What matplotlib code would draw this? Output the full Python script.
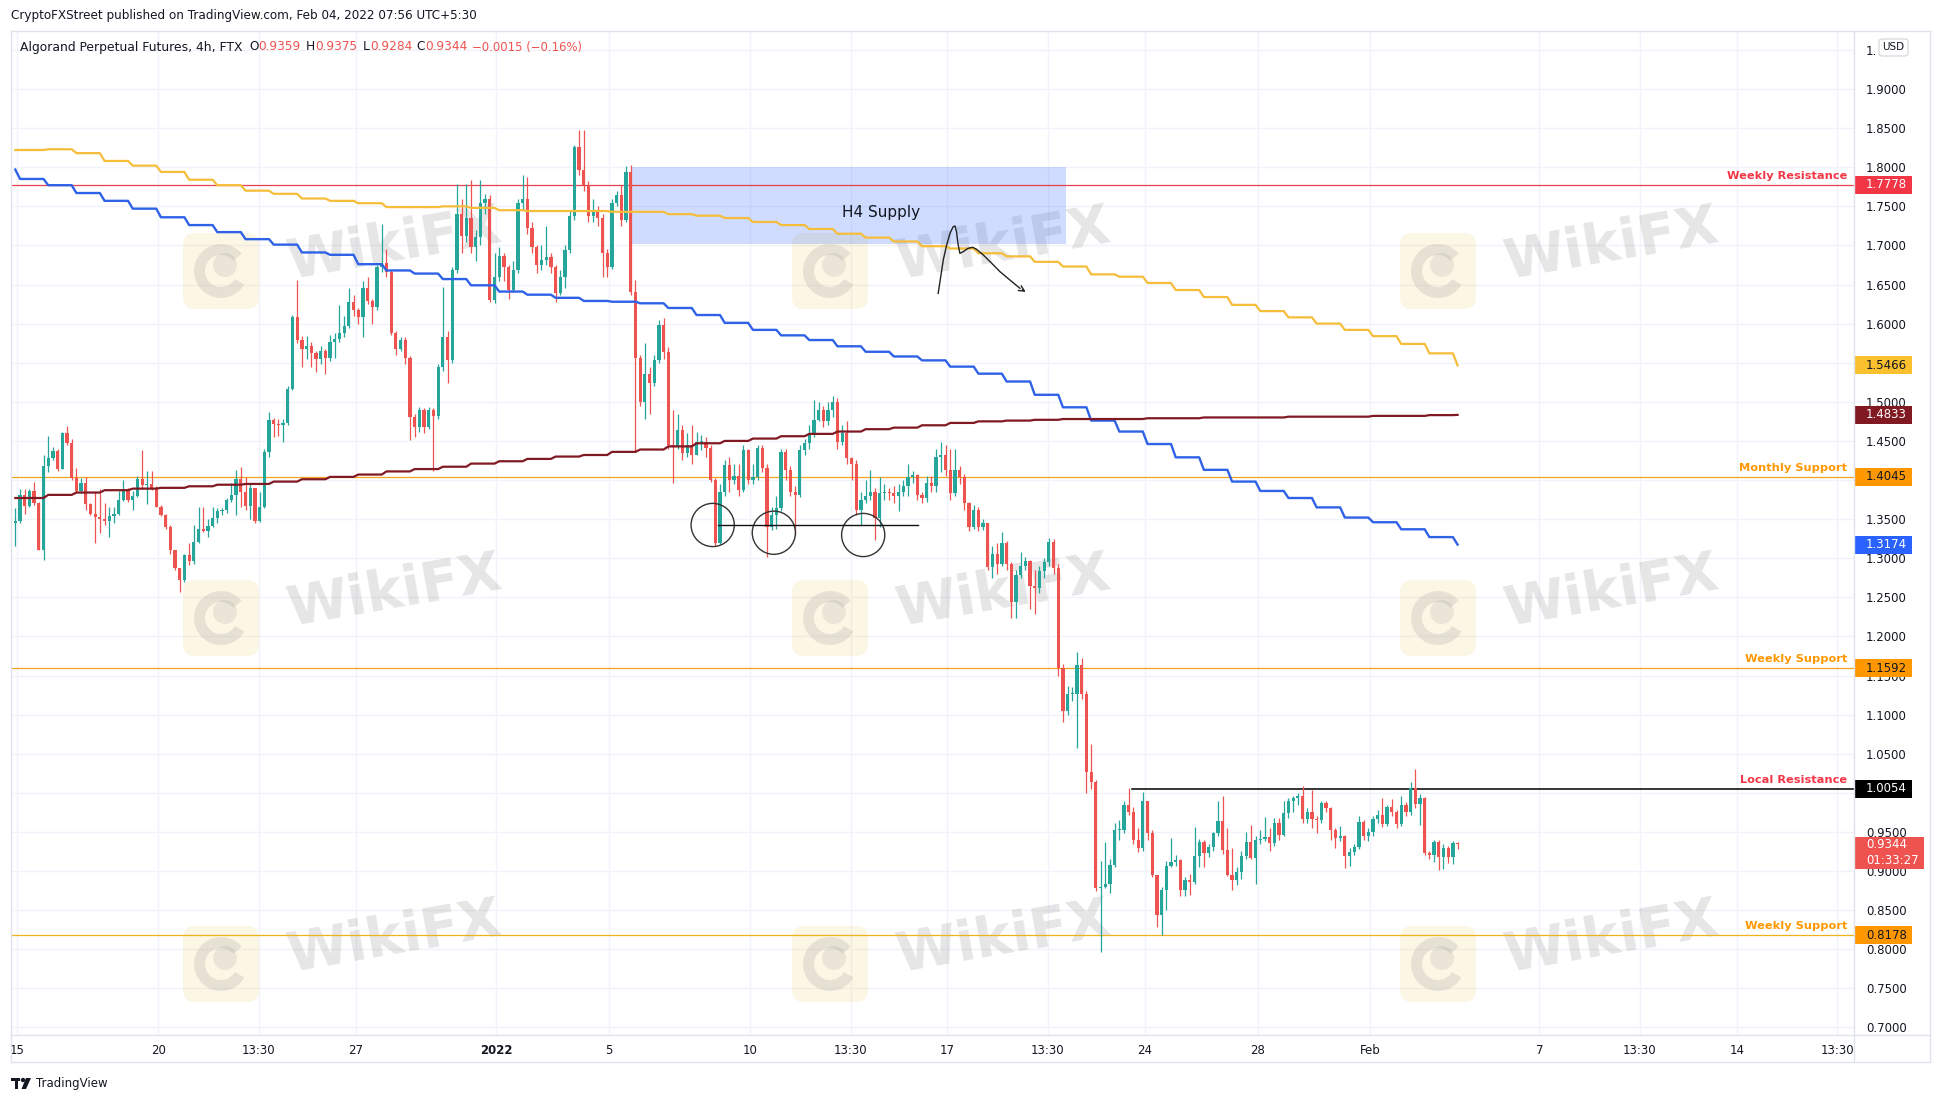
import numpy as np
import matplotlib
matplotlib.use("Agg")
import matplotlib.pyplot as plt
import matplotlib.transforms as mtransforms
from matplotlib.patches import Rectangle, Ellipse, FancyBboxPatch, Wedge, Polygon
from matplotlib.lines import Line2D

W, H = 1941, 1103

# 4h candles, x = days since Dec 15 00:00 (UTC+5:30)
first_candle_day = -0.07
first_open = 1.345
closes = [
    1.347, 1.381, 1.367, 1.386, 1.370, 1.311, 1.418, 1.428, 1.437, 1.414,
    1.460, 1.447, 1.402, 1.386, 1.396, 1.369, 1.357, 1.353, 1.350, 1.348,
    1.354, 1.357, 1.375, 1.388, 1.374, 1.380, 1.401, 1.394, 1.395, 1.389,
    1.366, 1.355, 1.340, 1.310, 1.287, 1.272, 1.304, 1.297, 1.321, 1.338,
    1.335, 1.341, 1.351, 1.360, 1.362, 1.374, 1.381, 1.401, 1.385, 1.367,
    1.390, 1.348, 1.366, 1.436, 1.477, 1.471, 1.470, 1.473, 1.517, 1.609,
    1.579, 1.568, 1.571, 1.562, 1.555, 1.565, 1.556, 1.577, 1.580, 1.588,
    1.597, 1.628, 1.617, 1.608, 1.646, 1.629, 1.621, 1.672, 1.677, 1.666,
    1.588, 1.568, 1.579, 1.556, 1.481, 1.468, 1.490, 1.468, 1.490, 1.482,
    1.545, 1.583, 1.553, 1.669, 1.740, 1.712, 1.735, 1.698, 1.711, 1.754,
    1.760, 1.630, 1.660, 1.686, 1.672, 1.643, 1.669, 1.754, 1.760, 1.722,
    1.698, 1.675, 1.681, 1.685, 1.673, 1.639, 1.660, 1.694, 1.737, 1.826,
    1.796, 1.777, 1.737, 1.745, 1.735, 1.690, 1.673, 1.754, 1.765, 1.733,
    1.794, 1.641, 1.556, 1.500, 1.536, 1.524, 1.553, 1.598, 1.564, 1.445,
    1.443, 1.464, 1.434, 1.445, 1.432, 1.449, 1.449, 1.441, 1.400, 1.319,
    1.385, 1.419, 1.400, 1.405, 1.387, 1.438, 1.400, 1.404, 1.441, 1.415,
    1.340, 1.355, 1.364, 1.436, 1.413, 1.385, 1.381, 1.438, 1.447, 1.458,
    1.477, 1.490, 1.475, 1.490, 1.500, 1.449, 1.460, 1.428, 1.421, 1.362,
    1.374, 1.379, 1.385, 1.351, 1.383, 1.385, 1.383, 1.379, 1.385, 1.392,
    1.404, 1.406, 1.381, 1.377, 1.396, 1.392, 1.430, 1.432, 1.413, 1.383,
    1.413, 1.404, 1.370, 1.340, 1.362, 1.340, 1.345, 1.289, 1.305, 1.292,
    1.320, 1.292, 1.244, 1.279, 1.290, 1.297, 1.265, 1.262, 1.284, 1.295,
    1.321, 1.288, 1.160, 1.105, 1.126, 1.127, 1.163, 1.126, 1.027, 1.014,
    0.878, 0.880, 0.883, 0.908, 0.952, 0.953, 0.984, 0.976, 0.940, 0.929,
    0.989, 0.948, 0.895, 0.844, 0.876, 0.906, 0.912, 0.914, 0.876, 0.889,
    0.886, 0.919, 0.937, 0.923, 0.931, 0.948, 0.964, 0.927, 0.895, 0.888,
    0.899, 0.919, 0.937, 0.917, 0.940, 0.941, 0.944, 0.936, 0.961, 0.946,
    0.974, 0.990, 0.993, 0.996, 0.966, 0.976, 0.967, 0.965, 0.987, 0.980,
    0.952, 0.942, 0.945, 0.919, 0.924, 0.931, 0.963, 0.945, 0.950, 0.966,
    0.972, 0.960, 0.982, 0.975, 0.960, 0.985, 0.976, 1.006, 0.986, 0.993,
    0.923, 0.921, 0.937, 0.918, 0.929, 0.918, 0.9359, 0.9344]
highs = [
    1.364, 1.389, 1.389, 1.389, 1.398, 1.372, 1.432, 1.456, 1.442, 1.440,
    1.462, 1.469, 1.453, 1.415, 1.402, 1.404, 1.370, 1.385, 1.388, 1.370,
    1.366, 1.366, 1.386, 1.400, 1.390, 1.386, 1.405, 1.438, 1.411, 1.411,
    1.392, 1.368, 1.357, 1.342, 1.311, 1.288, 1.306, 1.319, 1.342, 1.365,
    1.365, 1.350, 1.366, 1.364, 1.364, 1.377, 1.396, 1.413, 1.417, 1.404,
    1.395, 1.390, 1.385, 1.440, 1.487, 1.479, 1.478, 1.478, 1.520, 1.611,
    1.656, 1.584, 1.584, 1.576, 1.565, 1.572, 1.568, 1.585, 1.588, 1.624,
    1.610, 1.645, 1.636, 1.620, 1.654, 1.660, 1.632, 1.675, 1.728, 1.695,
    1.668, 1.590, 1.583, 1.583, 1.558, 1.485, 1.494, 1.492, 1.494, 1.492,
    1.548, 1.647, 1.590, 1.672, 1.779, 1.760, 1.779, 1.784, 1.720, 1.784,
    1.766, 1.765, 1.690, 1.698, 1.690, 1.675, 1.680, 1.760, 1.790, 1.788,
    1.730, 1.700, 1.700, 1.725, 1.690, 1.675, 1.668, 1.700, 1.745, 1.828,
    1.848, 1.848, 1.782, 1.760, 1.750, 1.740, 1.695, 1.760, 1.770, 1.777,
    1.801, 1.803, 1.656, 1.560, 1.575, 1.545, 1.560, 1.605, 1.607, 1.570,
    1.490, 1.485, 1.470, 1.460, 1.470, 1.462, 1.458, 1.455, 1.445, 1.402,
    1.395, 1.425, 1.430, 1.420, 1.420, 1.445, 1.440, 1.420, 1.445, 1.445,
    1.420, 1.365, 1.380, 1.440, 1.440, 1.418, 1.392, 1.445, 1.452, 1.470,
    1.502, 1.500, 1.495, 1.500, 1.507, 1.505, 1.470, 1.475, 1.430, 1.425,
    1.385, 1.400, 1.413, 1.390, 1.404, 1.395, 1.390, 1.392, 1.395, 1.400,
    1.420, 1.412, 1.408, 1.385, 1.405, 1.405, 1.440, 1.449, 1.445, 1.440,
    1.440, 1.418, 1.408, 1.372, 1.368, 1.366, 1.350, 1.345, 1.315, 1.320,
    1.333, 1.322, 1.295, 1.285, 1.308, 1.302, 1.298, 1.285, 1.290, 1.300,
    1.326, 1.324, 1.292, 1.165, 1.137, 1.135, 1.180, 1.173, 1.130, 1.062,
    1.016, 0.913, 0.937, 0.915, 0.962, 0.965, 0.989, 1.006, 0.982, 0.955,
    1.001, 0.990, 0.952, 0.895, 0.880, 0.913, 0.942, 0.920, 0.915, 0.892,
    0.896, 0.956, 0.941, 0.940, 0.935, 0.950, 0.989, 0.996, 0.955, 0.930,
    0.905, 0.926, 0.950, 0.959, 0.945, 0.953, 0.969, 0.955, 0.968, 0.968,
    0.990, 0.993, 0.996, 1.000, 1.009, 0.980, 1.004, 0.970, 0.990, 0.990,
    0.982, 0.955, 0.957, 0.946, 0.930, 0.935, 0.970, 0.965, 0.955, 0.970,
    0.978, 0.993, 0.985, 0.992, 0.978, 0.996, 0.988, 1.014, 1.030, 0.998,
    0.995, 0.925, 0.940, 0.940, 0.935, 0.932, 0.938, 0.9375]
lows = [
    1.315, 1.345, 1.357, 1.366, 1.368, 1.310, 1.298, 1.410, 1.425, 1.412,
    1.414, 1.445, 1.400, 1.384, 1.384, 1.362, 1.355, 1.319, 1.332, 1.342,
    1.327, 1.345, 1.355, 1.373, 1.372, 1.362, 1.378, 1.389, 1.369, 1.387,
    1.365, 1.354, 1.338, 1.306, 1.285, 1.257, 1.270, 1.291, 1.293, 1.320,
    1.333, 1.327, 1.340, 1.345, 1.355, 1.358, 1.372, 1.355, 1.365, 1.362,
    1.350, 1.345, 1.346, 1.364, 1.430, 1.455, 1.456, 1.448, 1.470, 1.515,
    1.575, 1.545, 1.555, 1.545, 1.538, 1.548, 1.536, 1.552, 1.556, 1.576,
    1.583, 1.595, 1.610, 1.600, 1.583, 1.625, 1.600, 1.618, 1.666, 1.660,
    1.585, 1.560, 1.565, 1.548, 1.451, 1.455, 1.462, 1.460, 1.465, 1.411,
    1.478, 1.540, 1.524, 1.550, 1.665, 1.690, 1.705, 1.690, 1.680, 1.700,
    1.740, 1.628, 1.626, 1.655, 1.655, 1.632, 1.640, 1.665, 1.745, 1.715,
    1.690, 1.665, 1.668, 1.675, 1.665, 1.628, 1.636, 1.645, 1.690, 1.733,
    1.790, 1.770, 1.730, 1.730, 1.725, 1.660, 1.660, 1.670, 1.750, 1.725,
    1.730, 1.636, 1.436, 1.495, 1.478, 1.485, 1.520, 1.550, 1.555, 1.440,
    1.396, 1.440, 1.425, 1.430, 1.420, 1.432, 1.438, 1.430, 1.398, 1.315,
    1.318, 1.380, 1.385, 1.395, 1.380, 1.385, 1.395, 1.395, 1.400, 1.410,
    1.302, 1.336, 1.338, 1.360, 1.400, 1.380, 1.330, 1.378, 1.432, 1.440,
    1.455, 1.475, 1.468, 1.470, 1.480, 1.440, 1.445, 1.420, 1.400, 1.355,
    1.342, 1.370, 1.375, 1.323, 1.340, 1.375, 1.375, 1.370, 1.360, 1.380,
    1.380, 1.396, 1.375, 1.370, 1.372, 1.385, 1.385, 1.410, 1.405, 1.375,
    1.380, 1.395, 1.362, 1.335, 1.338, 1.335, 1.336, 1.285, 1.275, 1.280,
    1.290, 1.285, 1.224, 1.224, 1.275, 1.285, 1.235, 1.229, 1.255, 1.275,
    1.290, 1.280, 1.150, 1.091, 1.100, 1.118, 1.057, 1.120, 1.000, 1.005,
    0.875, 0.797, 0.878, 0.872, 0.905, 0.940, 0.948, 0.972, 0.935, 0.924,
    0.925, 0.940, 0.892, 0.829, 0.818, 0.850, 0.905, 0.906, 0.868, 0.868,
    0.869, 0.884, 0.905, 0.905, 0.918, 0.925, 0.945, 0.922, 0.893, 0.876,
    0.882, 0.890, 0.915, 0.915, 0.883, 0.935, 0.938, 0.925, 0.932, 0.940,
    0.945, 0.968, 0.975, 0.985, 0.962, 0.962, 0.955, 0.949, 0.962, 0.975,
    0.940, 0.929, 0.938, 0.904, 0.906, 0.920, 0.928, 0.940, 0.938, 0.945,
    0.962, 0.956, 0.958, 0.970, 0.955, 0.958, 0.970, 0.972, 0.980, 0.959,
    0.920, 0.915, 0.911, 0.901, 0.903, 0.910, 0.909, 0.9284]

# daily moving averages (stepped), days -1 .. 51
ma_yellow = [1.822, 1.822, 1.823, 1.818, 1.808, 1.802, 1.794, 1.784, 1.777, 1.770,
             1.766, 1.760, 1.757, 1.754, 1.749, 1.749, 1.750, 1.748, 1.745, 1.744,
             1.744, 1.744, 1.743, 1.743, 1.740, 1.738, 1.735, 1.730, 1.726, 1.721,
             1.715, 1.710, 1.705, 1.699, 1.696, 1.690, 1.686, 1.679, 1.673, 1.663,
             1.660, 1.652, 1.643, 1.634, 1.624, 1.616, 1.608, 1.600, 1.592, 1.584,
             1.574, 1.562, 1.5466]
ma_blue = [1.797, 1.785, 1.777, 1.767, 1.757, 1.747, 1.736, 1.726, 1.717, 1.708,
           1.701, 1.691, 1.688, 1.676, 1.668, 1.664, 1.657, 1.649, 1.641, 1.637,
           1.633, 1.629, 1.628, 1.626, 1.620, 1.611, 1.601, 1.592, 1.585, 1.579,
           1.571, 1.564, 1.558, 1.553, 1.545, 1.536, 1.526, 1.509, 1.493, 1.476,
           1.462, 1.446, 1.429, 1.413, 1.398, 1.386, 1.377, 1.365, 1.352, 1.346,
           1.337, 1.327, 1.3174]
ma_brown = [1.377, 1.377, 1.381, 1.384, 1.387, 1.389, 1.390, 1.392, 1.394, 1.395,
            1.398, 1.401, 1.404, 1.407, 1.411, 1.414, 1.417, 1.421, 1.424, 1.427,
            1.430, 1.432, 1.436, 1.439, 1.443, 1.447, 1.450, 1.453, 1.456, 1.459,
            1.462, 1.465, 1.467, 1.470, 1.473, 1.475, 1.476, 1.477, 1.478, 1.478,
            1.478, 1.479, 1.479, 1.480, 1.480, 1.480, 1.481, 1.481, 1.481, 1.482,
            1.482, 1.483, 1.4833]

# horizontal levels
level_prices = [1.7778, 1.4045, 1.1592, 1.0054, 0.8178]
level_names = ["Weekly Resistance", "Monthly Support", "Weekly Support", "Local Resistance", "Weekly Support"]
level_colors = ["#e8404f", "#f5a21f", "#f5a21f", "#000000", "#f0b21a"]
level_text_colors = ["#f23645", "#ff9800", "#ff9800", "#f23645", "#ff9800"]
level_start = [None, None, None, 39.53, None]

# price tags on the right scale
tag_prices = [1.7778, 1.5466, 1.4833, 1.4045, 1.3174, 1.1592, 1.0054, 0.8178]
tag_fill = ["#f23645", "#fbc02d", "#801922", "#ff9800", "#2962ff", "#ff9800", "#000000", "#ff9800"]
tag_text = ["white", "#131722", "white", "#131722", "white", "#131722", "white", "#131722"]

# annotations
supply_days = [21.8, 37.2]
supply_prices = [1.7018, 1.8006]
circle_days = [24.67, 26.84, 30.01]
circle_prices = [1.3425, 1.3326, 1.3297]
base_line_days = [24.87, 31.96]
base_line_price = 1.3421
arrow_days = [32.67, 32.76, 32.85, 32.97, 33.09, 33.20, 33.27, 33.32, 33.37, 33.44,
              33.56, 33.73, 33.89, 34.03, 34.27, 34.57, 34.86, 35.21, 35.57, 35.86]
arrow_prices = [1.6387, 1.6600, 1.6813, 1.7005, 1.7155, 1.7239, 1.7248, 1.7175, 1.7027, 1.6899,
                1.6920, 1.6963, 1.6976, 1.6951, 1.6878, 1.6771, 1.6665, 1.6559, 1.6452, 1.6387]

tick_days = [0, 5, 8.5625, 12, 17, 21, 26, 29.5625, 33, 36.5625, 40, 44, 48, 54, 57.5625, 61, 64.5625]
tick_labels = ["15", "20", "13:30", "27", "2022", "5", "10", "13:30", "17", "13:30",
               "24", "28", "Feb", "7", "13:30", "14", "13:30"]
price_ticks = [0.70, 0.75, 0.80, 0.85, 0.90, 0.95, 1.00, 1.05, 1.10, 1.15, 1.20, 1.25, 1.30,
               1.35, 1.40, 1.45, 1.50, 1.55, 1.60, 1.65, 1.70, 1.75, 1.80, 1.85, 1.90, 1.95]
# 1.0000 and 1.4000 sit fully under price tags, 1.9500 is cut by the USD box
price_labels = ["0.7000", "0.7500", "0.8000", "0.8500", "0.9000", "0.9500", "", "1.0500",
                "1.1000", "1.1500", "1.2000", "1.2500", "1.3000", "1.3500", "", "1.4500",
                "1.5000", "1.5500", "1.6000", "1.6500", "1.7000", "1.7500", "1.8000",
                "1.8500", "1.9000", "1."]

UP, DOWN = "#26a69a", "#ef5350"
TXT = "#131722"
FRAME = "#e0e3eb"
GRID = "#f0f3fa"

fig = plt.figure(figsize=(W / 100, H / 100), dpi=100)
fig.patch.set_facecolor("white")
ax = fig.add_axes([11 / W, 1 - 1035 / H, (1854 - 11) / W, (1035 - 31) / H])
ax.set_xlim(-0.223, 65.16)
ax.set_ylim(0.6903, 1.9742)
for s in ax.spines.values():
    s.set_visible(False)
ax.set_axisbelow(True)
ax.grid(True, color=GRID, lw=1.0)

# candles
n = min(len(closes), len(highs), len(lows))
c = np.array(closes[:n])
o = np.concatenate([[first_open], c[:-1]])
hi = np.maximum(np.array(highs[:n]), np.maximum(o, c))
lo = np.minimum(np.array(lows[:n]), np.minimum(o, c))
t = first_candle_day + np.arange(n) / 6.0
cols = [UP if cc >= oo else DOWN for oo, cc in zip(o, c)]
ax.vlines(t, lo, hi, colors=cols, lw=0.9, zorder=3)
body_h = np.maximum(np.abs(c - o), 0.0015)
ax.bar(t, body_h, width=0.115, bottom=np.minimum(o, c), color=cols, linewidth=0, zorder=3)

# stepped moving averages
day_idx = np.clip(np.floor(t).astype(int) + 1, 0, len(ma_yellow) - 1)
ax.plot(t, np.array(ma_yellow)[day_idx], color="#f6bd3b", lw=1.6, zorder=4)
ax.plot(t, np.array(ma_blue)[day_idx], color="#2f62e6", lw=1.7, zorder=4)
ax.plot(t, np.array(ma_brown)[day_idx], color="#801922", lw=1.6, zorder=4)

# horizontal levels and their labels
trans = mtransforms.blended_transform_factory(ax.transAxes, ax.transData)
for p, name, lc, tc, x0 in zip(level_prices, level_names, level_colors, level_text_colors, level_start):
    lw = 1.1 if lc == "#000000" else 0.9
    if x0 is None:
        ax.axhline(p, color=lc, lw=lw, zorder=2.5)
    else:
        ax.plot([x0, 65.16], [p, p], color=lc, lw=lw, zorder=2.5)
    ax.text(1 - 7 / 1843, p + 4 / 782, name, transform=trans, ha="right", va="bottom",
            color=tc, fontsize=8.2, fontweight="bold", zorder=6)

# H4 supply zone
ax.add_patch(Rectangle((supply_days[0], supply_prices[0]), supply_days[1] - supply_days[0],
                       supply_prices[1] - supply_prices[0], facecolor="#2962ff", alpha=0.22,
                       edgecolor="none", zorder=2))
ax.text(30.66, 1.7418, "H4 Supply", fontsize=11, color=TXT, ha="center", va="center", zorder=6)

# circles + base line
for cx, cy in zip(circle_days, circle_prices):
    ax.add_patch(Ellipse((cx, cy), 2 * 21.6 / 28.19, 2 * 21.6 / 782, fill=False,
                         edgecolor="#333333", lw=1.0, zorder=5))
ax.plot(base_line_days, [base_line_price] * 2, color="#111111", lw=1.0, zorder=5)

# hand-drawn path arrow
ax.plot(arrow_days[:-1], arrow_prices[:-1], color="#222222", lw=1.0, zorder=5)
ax.annotate("", xy=(arrow_days[-1], arrow_prices[-1]), xytext=(arrow_days[-2], arrow_prices[-2]),
            arrowprops=dict(arrowstyle="->", color="#222222", lw=1.0,
                            mutation_scale=10), zorder=5)

# axes ticks
ax.set_xticks(tick_days)
ax.set_xticklabels(tick_labels)
ax.tick_params(axis="x", length=0, pad=6.5, labelsize=8.5, colors=TXT)
for lab in ax.get_xticklabels():
    if lab.get_text() == "2022":
        lab.set_fontweight("bold")
ax.yaxis.tick_right()
ax.set_yticks(price_ticks)
ax.set_yticklabels(price_labels)
ax.tick_params(axis="y", length=0, pad=8.5, labelsize=8.5, colors=TXT)

# price tags
tag_w = 58 / 1843
tag_h = 18 / 782
for p, fc, tc in zip(tag_prices, tag_fill, tag_text):
    ax.add_patch(Rectangle((1.0, p - tag_h / 2), tag_w, tag_h, transform=trans,
                           facecolor=fc, edgecolor="none", clip_on=False, zorder=7))
    ax.text(1 + 12 / 1843, p, f"{p:.4f}", transform=trans, ha="left", va="center",
            color=tc, fontsize=8.5, zorder=8, clip_on=False)
# last price tag with countdown
last_p = closes[n - 1]
ax.add_patch(Rectangle((1.0, last_p - 25 / 782), 70 / 1843, 32 / 782, transform=trans,
                       facecolor="#ef5350", edgecolor="none", clip_on=False, zorder=7))
ax.text(1 + 12 / 1843, last_p, f"{last_p:.4f}", transform=trans, ha="left", va="center",
        color="white", fontsize=8.5, zorder=8, clip_on=False)
ax.text(1 + 12 / 1843, last_p - 16 / 782, "01:33:27", transform=trans, ha="left", va="center",
        color="white", fontsize=8.5, zorder=8, clip_on=False)

# pixel-space helpers
ident = mtransforms.IdentityTransform()


def fline(x0, y0, x1, y1, color=FRAME, lw=1.0):
    fig.add_artist(Line2D([x0 / W, x1 / W], [1 - y0 / H, 1 - y1 / H], color=color, lw=lw,
                          transform=fig.transFigure))


fline(11, 31, 1930, 31)
fline(11, 31, 11, 1062)
fline(1930, 31, 1930, 1062)
fline(1854, 31, 1854, 1062)
fline(11, 1035, 1930, 1035)
fline(11, 1062, 1930, 1062)

# USD box
fig.add_artist(FancyBboxPatch((1879 / W, 1 - 56 / H), 29 / W, 17 / H,
                              boxstyle="round,pad=0,rounding_size=0.002",
                              transform=fig.transFigure, facecolor="white",
                              edgecolor="#d1d4dc", lw=0.8, zorder=9))
fig.text(1893.5 / W, 1 - 47.5 / H, "USD", fontsize=7.5, color=TXT, ha="center", va="center", zorder=10)

# watermarks
wm_cols = [221, 830, 1438]
wm_rows = [271, 618, 964]
for cx in wm_cols:
    for cy in wm_rows:
        ax.add_patch(FancyBboxPatch((cx - 38, H - cy - 38), 76, 76,
                                    boxstyle="round,pad=0,rounding_size=12",
                                    transform=ident, facecolor="#f3d27a", alpha=0.2,
                                    edgecolor="none", zorder=1, clip_on=False))
        ax.add_patch(Wedge((cx, H - cy), 27, 40, 330, width=11, transform=ident,
                           facecolor="#9a9a9a", alpha=0.22, edgecolor="none", zorder=1))
        ax.add_patch(Wedge((cx + 4, H - cy + 6), 12, 0, 360, transform=ident,
                           facecolor="#9a9a9a", alpha=0.18, edgecolor="none", zorder=1))
        ax.text(cx + 173, H - cy + 26, "WikiFX", transform=ident, fontsize=40,
                fontweight="bold", color="#8c8c8c", alpha=0.22, ha="center", va="center",
                rotation=10, zorder=1)

# header texts
fig.text(11 / W, 1 - 16 / H, "CryptoFXStreet published on TradingView.com, Feb 04, 2022 07:56 UTC+5:30",
         fontsize=8.65, color=TXT, ha="left", va="center")
ohlc_x = [20, 249, 258, 306, 315, 363, 370, 416, 425, 472]
ohlc_s = ["Algorand Perpetual Futures, 4h, FTX", "O", "0.9359", "H", "0.9375", "L", "0.9284",
          "C", "0.9344", "\u22120.0015 (\u22120.16%)"]
ohlc_c = [TXT, TXT, DOWN, TXT, DOWN, TXT, DOWN, TXT, DOWN, DOWN]
ohlc_fs = [8.9, 8.7, 8.7, 8.7, 8.7, 8.7, 8.7, 8.7, 8.7, 8.4]
for x, s, col, fs in zip(ohlc_x, ohlc_s, ohlc_c, ohlc_fs):
    fig.text(x / W, 1 - 47 / H, s, fontsize=fs, color=col, ha="left", va="center")

# TradingView footer
fig.add_artist(Rectangle((11, H - 1081), 9, 3.5, transform=ident, facecolor="#131722", edgecolor="none"))
fig.add_artist(Rectangle((14.5, H - 1089), 3.5, 11, transform=ident, facecolor="#131722", edgecolor="none"))
fig.add_artist(Wedge((23, H - 1080), 2.2, 0, 360, transform=ident, facecolor="#131722", edgecolor="none"))
fig.add_artist(Polygon([(26, H - 1078), (31, H - 1078), (26, H - 1089), (21.5, H - 1089)],
                       closed=True, transform=ident, facecolor="#131722", edgecolor="none"))
fig.text(36 / W, 1 - 1083.5 / H, "TradingView", fontsize=8.5, color=TXT, ha="left", va="center")

fig.savefig("out.png", dpi=100, facecolor="white")
